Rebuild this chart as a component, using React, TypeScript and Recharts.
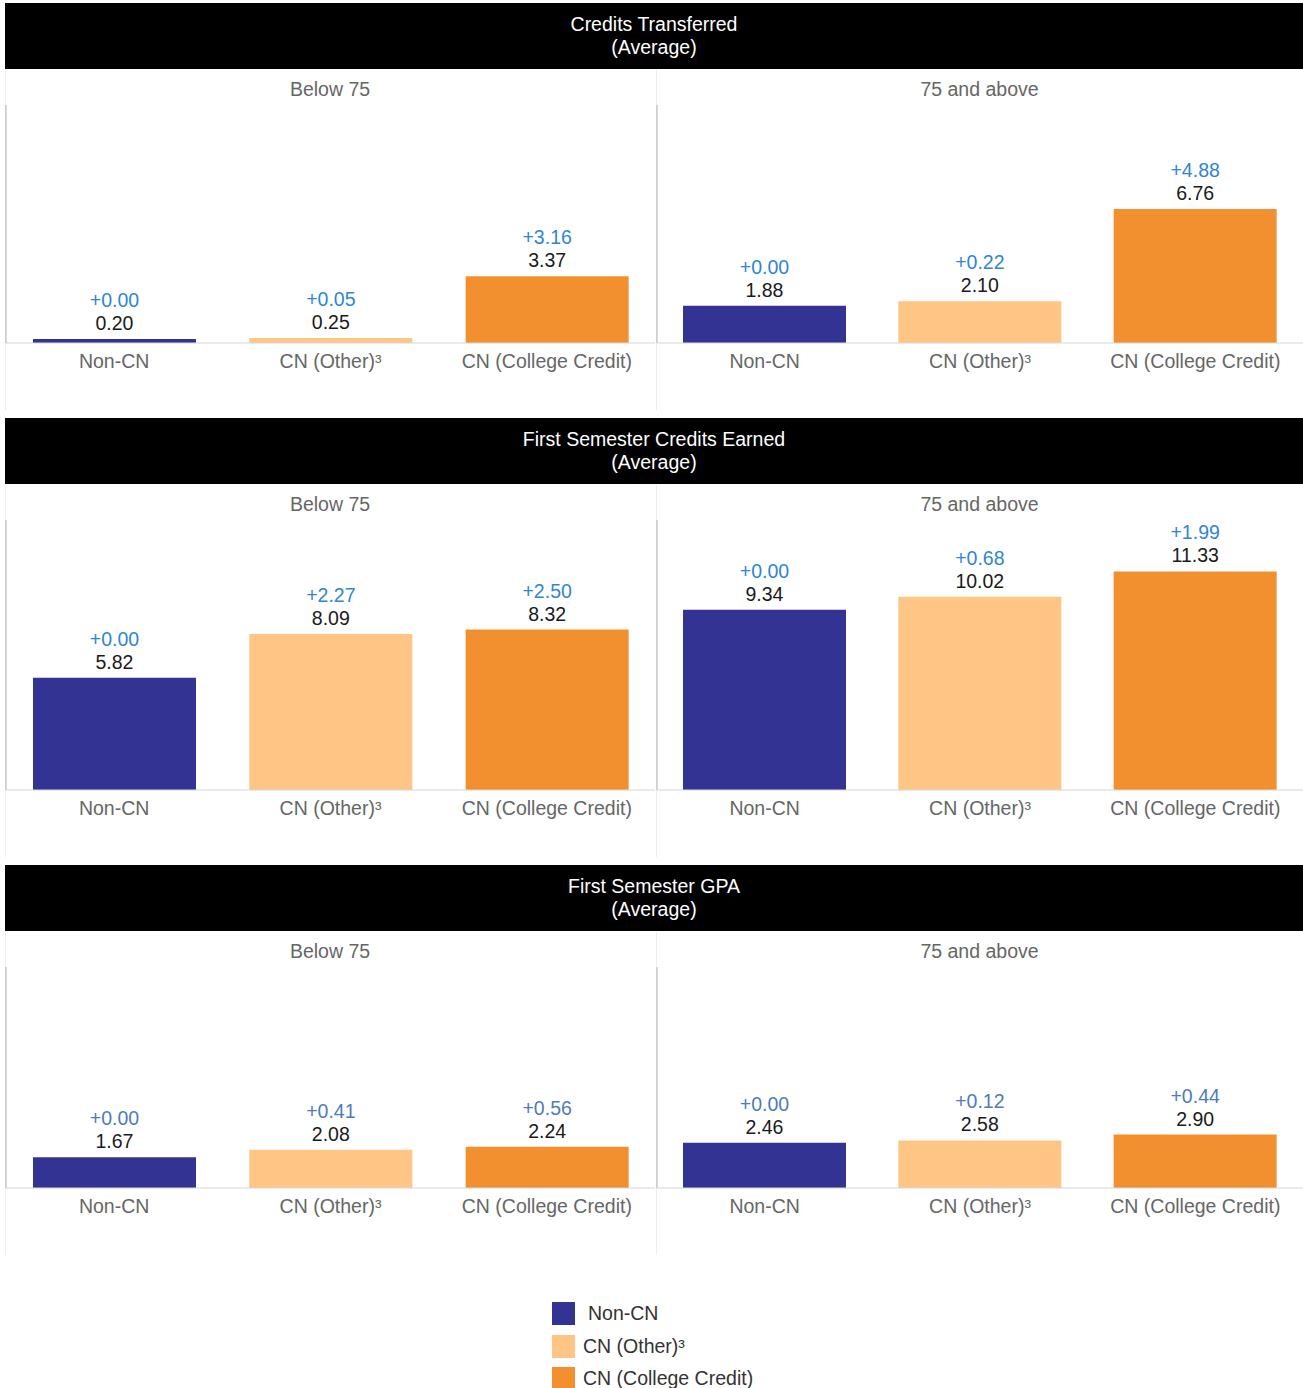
import { BarChart, Bar, XAxis, YAxis, Cell, LabelList } from 'recharts'

const categories = ['Non-CN', 'CN (Other)³', 'CN (College Credit)']
const groups = ['Below 75', '75 and above']
const colors = ['#333393', '#FEC584', '#F2902F']

// Credits Transferred
const transferredBelow = [0.20, 0.25, 3.37]
const transferredBelowDiff = [0.00, 0.05, 3.16]
const transferredAbove = [1.88, 2.10, 6.76]
const transferredAboveDiff = [0.00, 0.22, 4.88]

// First Semester Credits Earned
const earnedBelow = [5.82, 8.09, 8.32]
const earnedBelowDiff = [0.00, 2.27, 2.50]
const earnedAbove = [9.34, 10.02, 11.33]
const earnedAboveDiff = [0.00, 0.68, 1.99]

// First Semester GPA
const gpaBelow = [1.67, 2.08, 2.24]
const gpaBelowDiff = [0.00, 0.41, 0.56]
const gpaAbove = [2.46, 2.58, 2.90]
const gpaAboveDiff = [0.00, 0.12, 0.44]

const FONT = "'Liberation Sans', Arial, sans-serif"
const FS = 19.5

const toRows = (vals: number[], diffs: number[]) =>
  categories.map((name, i) => ({ name, value: vals[i], diff: diffs[i] }))

const rows = [
  { title: 'Credits Transferred', top: 3, plotH: 238, max: 12, diffColor: '#2F86D2',
    panels: [toRows(transferredBelow, transferredBelowDiff), toRows(transferredAbove, transferredAboveDiff)] },
  { title: 'First Semester Credits Earned', top: 418, plotH: 270, max: 14, diffColor: '#2F86D2',
    panels: [toRows(earnedBelow, earnedBelowDiff), toRows(earnedAbove, earnedAboveDiff)] },
  { title: 'First Semester GPA', top: 865, plotH: 221, max: 12, diffColor: '#4E7CB8',
    panels: [toRows(gpaBelow, gpaBelowDiff), toRows(gpaAbove, gpaAboveDiff)] },
]

const panelX = [5, 656]
const panelW = [650, 647]
const AXIS_H = 67

function Panel({ data, x, w, top, plotH, max, diffColor, label }: any) {
  return (
    <>
      <div style={{ position: 'absolute', left: x, top: top + 67, width: w, height: plotH + AXIS_H + 35, borderLeft: '1px solid #ececec' }} />
      <div style={{ position: 'absolute', left: x, top: top + 74, width: w, textAlign: 'center', lineHeight: '24px', fontSize: FS, color: '#666' }}>
        {label}
      </div>
      <div style={{ position: 'absolute', left: x, top: top + 102 }}>
        <BarChart width={w} height={plotH + AXIS_H} data={data} margin={{ top: 0, right: 0, left: 0, bottom: 0 }}>
          <XAxis dataKey="name" height={AXIS_H} interval={0} tickLine={false} tickMargin={5}
            axisLine={{ stroke: '#d6d6d6' }} tick={{ fill: '#666', fontSize: FS, fontFamily: FONT }} />
          <YAxis width={1} domain={[0, max]} tick={false} tickLine={false} axisLine={{ stroke: '#b3b3b3' }} />
          <Bar dataKey="value" barSize={163} isAnimationActive={false}>
            {data.map((_: any, i: number) => <Cell key={i} fill={colors[i]} />)}
            <LabelList dataKey="value" position="top" offset={9} fill="#1a1a1a" fontSize={FS} fontFamily={FONT}
              formatter={(v: any) => Number(v).toFixed(2)} />
            <LabelList dataKey="diff" position="top" offset={32} fill={diffColor} fontSize={FS} fontFamily={FONT}
              formatter={(v: any) => '+' + Number(v).toFixed(2)} />
          </Bar>
        </BarChart>
      </div>
    </>
  )
}

export default function App() {
  return (
    <div style={{ position: 'relative', width: 1303, height: 1388, background: '#fff', fontFamily: FONT, overflow: 'hidden' }}>
      <style>{'body{margin:0}'}</style>
      {rows.map((r) => (
        <div key={r.title}>
          <div style={{ position: 'absolute', left: 5, top: r.top, width: 1298, height: 66, background: '#000', color: '#fff',
            display: 'flex', flexDirection: 'column', justifyContent: 'center', alignItems: 'center', fontSize: FS, lineHeight: '23px' }}>
            <div>{r.title}</div>
            <div>(Average)</div>
          </div>
          {r.panels.map((data, p) => (
            <Panel key={p} data={data} x={panelX[p]} w={panelW[p]} top={r.top} plotH={r.plotH} max={r.max}
              diffColor={r.diffColor} label={groups[p]} />
          ))}
        </div>
      ))}
      {categories.map((c, i) => (
        <div key={c} style={{ position: 'absolute', left: 552, top: 1302 + i * 32.5, height: 23, display: 'flex', alignItems: 'center' }}>
          <div style={{ width: 23, height: 23, background: colors[i] }} />
          <div style={{ marginLeft: i === 0 ? 13 : 8, fontSize: FS, color: '#333' }}>{c}</div>
        </div>
      ))}
    </div>
  )
}
